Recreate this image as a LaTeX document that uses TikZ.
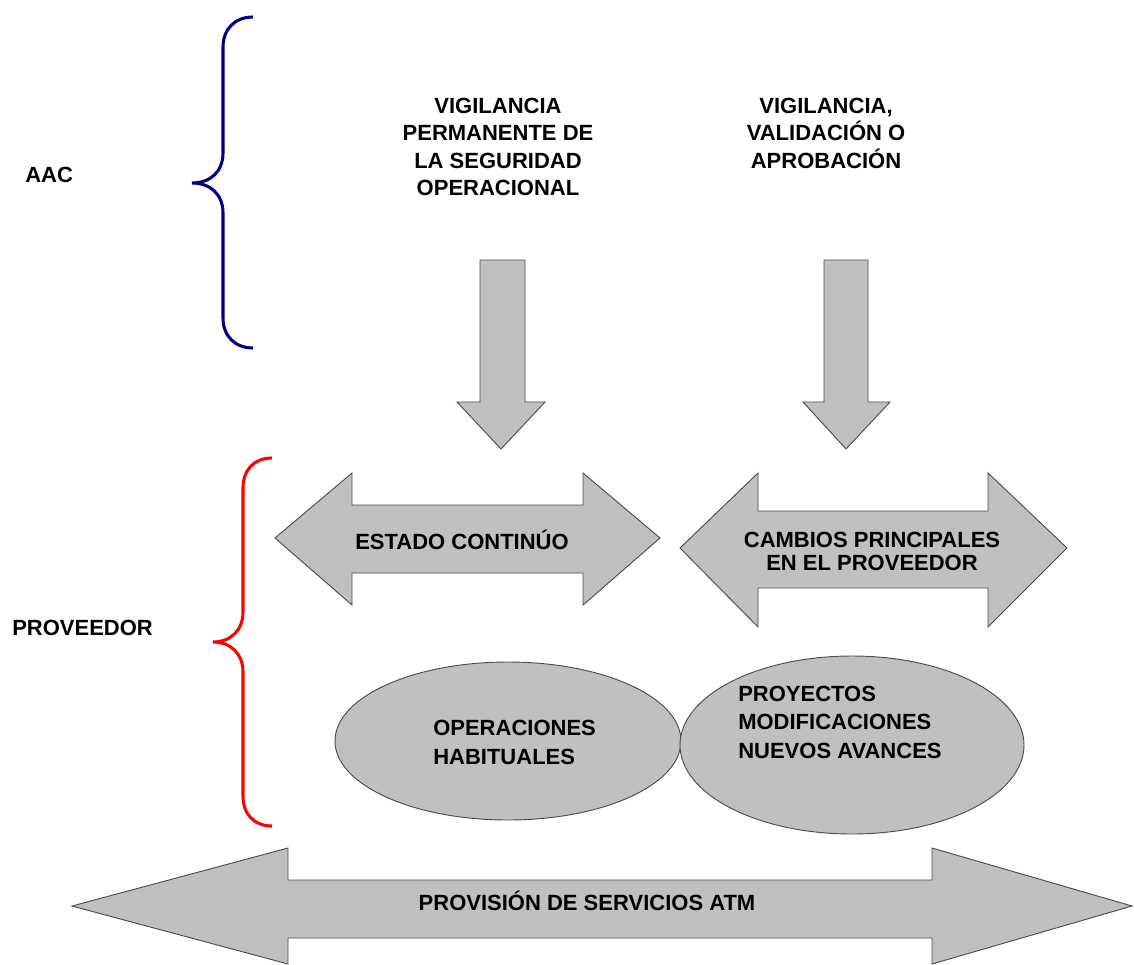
\documentclass[tikz,border=0pt]{standalone}
\usepackage{fontspec}
\setmainfont{Liberation Sans}
\definecolor{gris}{RGB}{192,192,192}
\definecolor{azul}{RGB}{0,0,128}
\definecolor{rojo}{RGB}{255,0,0}
\tikzstyle{texto}=[font=\bfseries\fontsize{16.5}{20.6}\selectfont,align=center,inner sep=0pt]
\tikzstyle{bloque}=[draw=black!70,fill=gris,line width=0.7pt,line join=miter]
\tikzstyle{llave}=[line width=2.3pt]

\begin{document}
\begin{tikzpicture}[x=0.75pt,y=-0.75pt]
\useasboundingbox (0,0) rectangle (1134,964);
% llaves
\draw[llave,azul] (253,17) .. controls (235,17) and (223,29) .. (223,47) -- (223,153)
  .. controls (223,171) and (211,183) .. (192,183)
  .. controls (211,183) and (223,195) .. (223,213) -- (223,318)
  .. controls (223,336) and (235,348) .. (253,348);
\draw[llave,rojo] (272,458) .. controls (254,458) and (243,470) .. (243,488) -- (243,612)
  .. controls (243,630) and (231,642) .. (213,642)
  .. controls (231,642) and (243,654) .. (243,672) -- (243,796)
  .. controls (243,814) and (254,826) .. (272,826);
\node[texto,anchor=west] (aac) at (25,175) {AAC};
\node[texto,anchor=west] (prov) at (12,628) {PROVEEDOR};
% flechas hacia abajo
\draw[bloque] (480,260) -- (525,260) -- (525,402) -- (545,402) -- (501,449) -- (457,402) -- (480,402) -- cycle;
\draw[bloque] (824,260) -- (868,260) -- (868,402) -- (890,402) -- (846,449) -- (803,402) -- (824,402) -- cycle;
\node[texto] (vig-1) at (498,147) {VIGILANCIA\\PERMANENTE DE\\LA SEGURIDAD\\OPERACIONAL};
\node[texto] (vig-2) at (826,133) {VIGILANCIA,\\VALIDACIÓN O\\APROBACIÓN};
% flechas dobles
\draw[bloque] (275,538) -- (352,473) -- (352,505) -- (583,505) -- (583,473) -- (660,538)
  -- (583,605) -- (583,573) -- (352,573) -- (352,605) -- cycle;
\draw[bloque] (680,548) -- (758,473) -- (758,511) -- (988,511) -- (988,473) -- (1067,548)
  -- (988,627) -- (988,588) -- (758,588) -- (758,627) -- cycle;
\node[texto] (estado) at (462,540) {ESTADO CONTINÚO};
\node[texto,font=\bfseries\fontsize{16.5}{17.3}\selectfont] (cambios) at (872,551) {CAMBIOS PRINCIPALES\\EN EL PROVEEDOR};
% elipses
\draw[bloque] (508,741) ellipse [x radius=173,y radius=79];
\draw[bloque] (852,745) ellipse [x radius=172,y radius=89];
\node[texto,align=left,anchor=west,font=\bfseries\fontsize{16.5}{21.7}\selectfont] (oper) at (433,742) {OPERACIONES\\HABITUALES};
\node[texto,align=left,anchor=west,font=\bfseries\fontsize{16.5}{21.4}\selectfont] (proy) at (738,722) {PROYECTOS\\MODIFICACIONES\\NUEVOS AVANCES};
% provision
\draw[bloque] (72,906) -- (288,848) -- (288,880) -- (932,880) -- (932,848) -- (1132,906)
  -- (932,964) -- (932,938) -- (288,938) -- (288,964) -- cycle;
\node[texto] (atm) at (587,901) {PROVISIÓN DE SERVICIOS ATM};
\end{tikzpicture}
\end{document}
